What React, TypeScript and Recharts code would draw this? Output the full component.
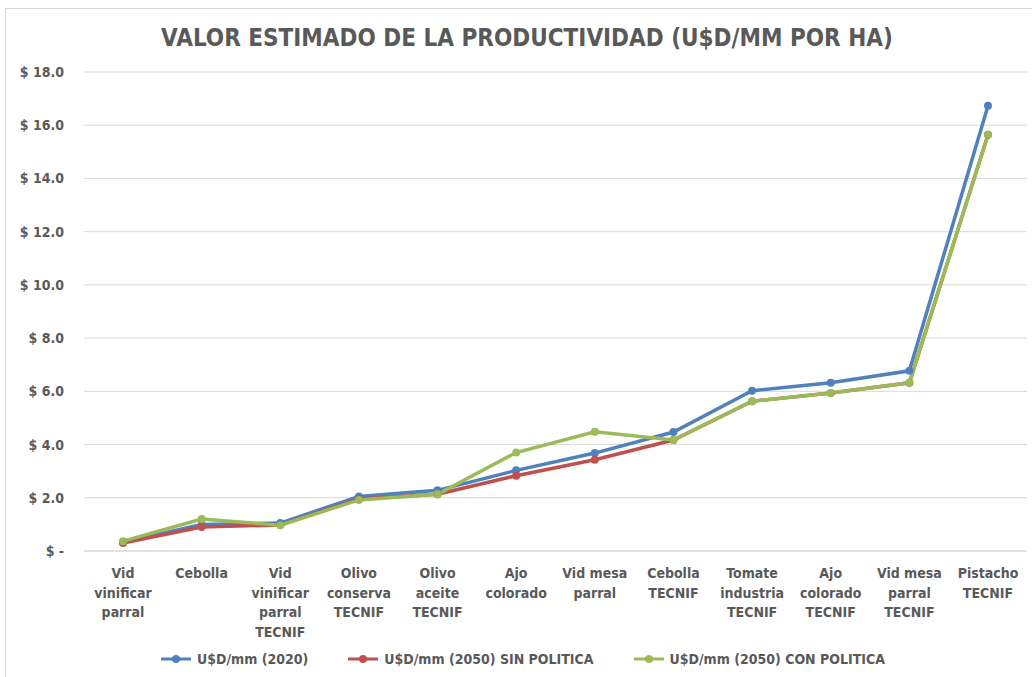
import { LineChart, Line, XAxis, YAxis, CartesianGrid } from "recharts";

const categories = [
  "Vid\nvinificar\nparral",
  "Cebolla",
  "Vid\nvinificar\nparral\nTECNIF",
  "Olivo\nconserva\nTECNIF",
  "Olivo\naceite\nTECNIF",
  "Ajo\ncolorado",
  "Vid mesa\nparral",
  "Cebolla\nTECNIF",
  "Tomate\nindustria\nTECNIF",
  "Ajo\ncolorado\nTECNIF",
  "Vid mesa\nparral\nTECNIF",
  "Pistacho\nTECNIF",
];

const usd2020 = [0.33, 1.0, 1.05, 2.05, 2.28, 3.03, 3.68, 4.47, 6.02, 6.32, 6.77, 16.73];
const usd2050Sin = [0.3, 0.9, 0.98, 1.95, 2.13, 2.83, 3.43, 4.17, 5.63, 5.94, 6.32, 15.64];
const usd2050Con = [0.37, 1.2, 0.97, 1.92, 2.13, 3.7, 4.48, 4.17, 5.63, 5.94, 6.32, 15.64];

const yTicks = [0, 2, 4, 6, 8, 10, 12, 14, 16, 18];

const series = [
  { key: "a", name: "U$D/mm (2020)", color: "#4F81BD" },
  { key: "b", name: "U$D/mm (2050) SIN POLITICA", color: "#C0504D" },
  { key: "c", name: "U$D/mm (2050) CON POLITICA", color: "#9BBB59" },
];

const data = categories.map((c, i) => ({
  cat: c,
  a: usd2020[i],
  b: usd2050Sin[i],
  c: usd2050Con[i],
}));

const FONT = "'Liberation Sans Narrow', 'DejaVu Sans Condensed', 'Open Sans', sans-serif";
const TEXT = "#595959";

const CatTick = (props: any) => {
  const { x, y, payload } = props;
  const lines = String(payload.value).split("\n");
  return (
    <text x={x} y={y} textAnchor="middle" fill={TEXT} fontSize={14} fontWeight="bold" fontFamily={FONT}>
      {lines.map((l, i) => (
        <tspan key={i} x={x} dy={i === 0 ? 19 : 19.5}>
          {l}
        </tspan>
      ))}
    </text>
  );
};

export default function App() {
  return (
    <div style={{ position: "relative", width: 1032, height: 677, background: "#fff", overflow: "hidden", fontFamily: FONT }}>
      <style>{`body{margin:0}`}</style>
      <div
        style={{
          position: "absolute",
          left: 5,
          top: 8,
          width: 1040,
          height: 700,
          border: "1px solid #d9d9d9",
        }}
      />
      <div
        style={{
          position: "absolute",
          top: 24,
          left: 0,
          width: 1054,
          textAlign: "center",
          fontSize: 24,
          fontWeight: "bold",
          color: TEXT,
        }}
      >
        VALOR ESTIMADO DE LA PRODUCTIVIDAD (U$D/MM POR HA)
      </div>
      <div style={{ position: "absolute", left: 0, top: 0 }}>
        <LineChart width={1032} height={677} data={data} margin={{ top: 72, right: 5, left: 0, bottom: 96 }}>
          <CartesianGrid vertical={false} stroke="#d9d9d9" strokeWidth={1} />
          <XAxis
            dataKey="cat"
            height={30}
            interval={0}
            padding={{ left: 39, right: 39 }}
            axisLine={{ stroke: "#d9d9d9" }}
            tickLine={false}
            tick={<CatTick />}
          />
          <YAxis
            width={84}
            domain={[0, 18]}
            ticks={yTicks}
            axisLine={false}
            tickLine={false}
            tickSize={0}
            tickMargin={20}
            tickFormatter={(v: number) => (v === 0 ? "$ -" : `$ ${v.toFixed(1)}`)}
            tick={{ fill: TEXT, fontSize: 14, fontWeight: "bold", fontFamily: FONT }}
          />
          {series.map((s) => (
            <Line
              key={s.key}
              type="linear"
              dataKey={s.key}
              name={s.name}
              stroke={s.color}
              strokeWidth={3.5}
              dot={{ r: 4, fill: s.color, stroke: s.color, strokeWidth: 0 }}
              isAnimationActive={false}
            />
          ))}
        </LineChart>
      </div>
      <div
        style={{
          position: "absolute",
          top: 651,
          left: 0,
          width: 1046,
          display: "flex",
          justifyContent: "center",
          gap: 40,
          fontSize: 14,
          fontWeight: "bold",
          color: TEXT,
        }}
      >
        {series.map((s) => (
          <div key={s.key} style={{ display: "flex", alignItems: "center" }}>
            <svg width={30} height={10} style={{ marginRight: 6 }}>
              <line x1={0} y1={5} x2={30} y2={5} stroke={s.color} strokeWidth={3} />
              <circle cx={15} cy={5} r={4} fill={s.color} />
            </svg>
            <span>{s.name}</span>
          </div>
        ))}
      </div>
    </div>
  );
}
